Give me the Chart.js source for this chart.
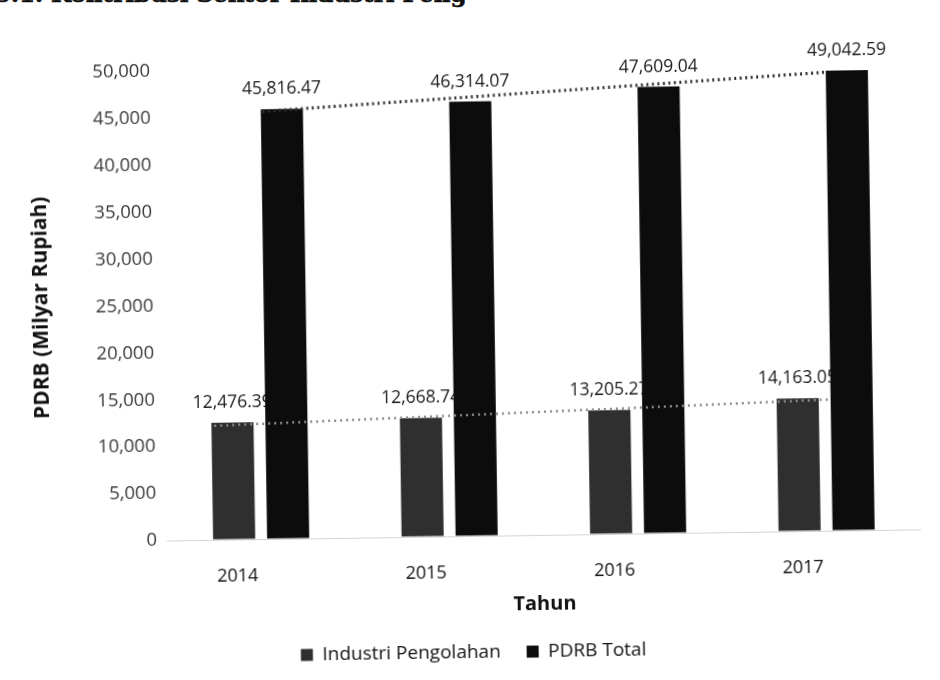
<!DOCTYPE html>
<html>
<head>
<meta charset="utf-8">
<script src="https://cdn.jsdelivr.net/npm/chart.js@4/dist/chart.umd.min.js"></script>
<style>
  html, body { margin: 0; padding: 0; background: #fff; overflow: hidden; }
  #wrap { position: relative; width: 940px; height: 680px; }
  #head {
    position: absolute; left: -5px; top: -18px; white-space: nowrap;
    font: bold 23px/24px "DejaVu Serif", serif; color: #111;
    -webkit-text-stroke: 0.6px #111;
  }
  #box { position: absolute; left: 0; top: 0; width: 940px; height: 680px; transform: rotate(-0.85deg); }
</style>
</head>
<body>
<div id="wrap">
  <div id="head">5.1. Kontribusi Sektor Industri Peng</div>
  <div id="box"><canvas id="myChart" width="940" height="680"></canvas></div>
</div>
<script>
const years = ['2014', '2015', '2016', '2017'];
const industri = [12476.39, 12668.74, 13205.27, 14163.05];
const pdrbTotal = [45816.47, 46314.07, 47609.04, 49042.59];

// dotted trend lines (position in category units, value)
const trendIndustriX = [-0.24, 3.02];
const trendIndustriY = [12150, 13980];
const trendTotalX = [0.04, 3.04];
const trendTotalY = [45590, 48890];

const yMin = 0;
const yMax = 50000;
const yStep = 5000;

const FONT = '"Open Sans", sans-serif';

const fmtLabel = v => v.toLocaleString('en-US', { minimumFractionDigits: 2, maximumFractionDigits: 2 });

function drawLabels(chart, index) {
    const ds = chart.data.datasets[index];
    const meta = chart.getDatasetMeta(index);
    const c = chart.ctx;
    c.save();
    c.font = '17.5px ' + FONT;
    c.fillStyle = '#1a1a1a';
    c.textAlign = 'center';
    c.textBaseline = 'bottom';
    meta.data.forEach((bar, i) => {
        c.fillText(fmtLabel(ds.data[i]), bar.x, bar.y - 11);
    });
    c.restore();
}

function drawTrend(chart, xs, ys, color, width, dash) {
    const { x, y } = chart.scales;
    const c = chart.ctx;
    c.save();
    c.strokeStyle = color;
    c.lineWidth = width;
    c.setLineDash(dash);
    c.beginPath();
    xs.forEach((v, i) => {
        const px = x.getPixelForValue(v);
        const py = y.getPixelForValue(ys[i]);
        if (i === 0) c.moveTo(px, py); else c.lineTo(px, py);
    });
    c.stroke();
    c.restore();
}

// industri labels go under the bars (the PDRB bars cover their ends), PDRB labels on top
const barLabels = {
    id: 'barLabels',
    beforeDatasetsDraw(chart) { drawLabels(chart, 0); },
    afterDatasetsDraw(chart) {
        drawTrend(chart, trendIndustriX, trendIndustriY, '#8a8a8a', 2.5, [2, 4]);
        drawTrend(chart, trendTotalX, trendTotalY, '#333', 3.2, [2, 3.5]);
        drawLabels(chart, 1);
    }
};

const ctx = document.getElementById('myChart').getContext('2d');

let myChart = new Chart(ctx, {
    type: 'bar',
    data: {
        labels: years,
        datasets: [{
            label: 'Industri Pengolahan',
            data: industri,
            backgroundColor: '#2f2f2f',
            categoryPercentage: 0.573,
            barPercentage: 0.78
        }, {
            label: 'PDRB Total',
            data: pdrbTotal,
            backgroundColor: '#0c0c0c',
            categoryPercentage: 0.573,
            barPercentage: 0.78
        }]
    },
    options: {
        responsive: false,
        animation: false,
        layout: { padding: { left: 20, right: 22, top: 67, bottom: 8 } },
        scales: {
            x: {
                grid: { display: false },
                border: { display: false },
                ticks: { color: '#111', font: { family: FONT, size: 18 }, padding: 18, labelOffset: -24 },
                title: {
                    display: true, text: 'Tahun', color: '#111',
                    font: { family: FONT, size: 20, weight: 'bold' },
                    padding: { top: 6, bottom: 0 }
                },
                afterFit: s => { s.height = 81; }
            },
            y: {
                min: yMin,
                max: yMax,
                border: { display: false },
                grid: {
                    drawTicks: false,
                    color: c => c.tick.value === 0 ? '#d4d4d4' : 'rgba(0,0,0,0)'
                },
                ticks: {
                    stepSize: yStep,
                    color: '#3a3a3a',
                    padding: 10,
                    font: { family: FONT, size: 18.5 },
                    callback: v => v.toLocaleString('en-US')
                },
                title: {
                    display: true, text: 'PDRB (Milyar Rupiah)', color: '#111',
                    font: { family: FONT, size: 21, weight: 'bold' },
                    padding: { top: 9, bottom: 0 }
                },
                afterFit: s => { s.width = 144; }
            }
        },
        plugins: {
            tooltip: { enabled: false },
            legend: {
                position: 'bottom',
                labels: {
                    color: '#111',
                    font: { family: FONT, size: 19 },
                    boxWidth: 12,
                    boxHeight: 12,
                    padding: 26
                }
            }
        }
    },
    plugins: [barLabels]
});
</script>
</body>
</html>
